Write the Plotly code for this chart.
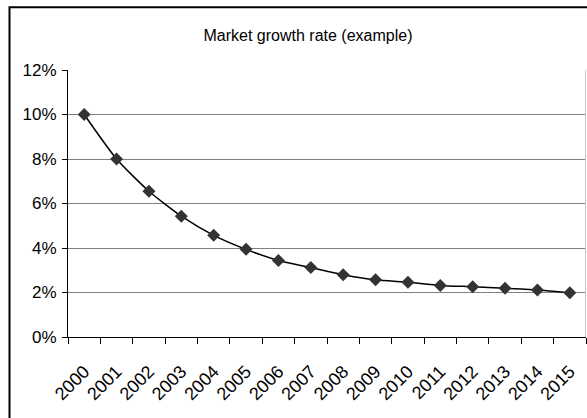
import plotly.graph_objects as go

# Market growth rate per year (fraction)
years = [str(y) for y in range(2000, 2016)]
growth = [0.100, 0.080, 0.0655, 0.0543, 0.0457, 0.0394, 0.0344, 0.0312,
          0.0280, 0.0257, 0.0246, 0.0232, 0.0226, 0.0219, 0.0211, 0.0199]
y_ticks = [0, 0.02, 0.04, 0.06, 0.08, 0.10, 0.12]

W, H = 587, 418
L, R, T, B = 68, 1, 69.5, 80.5
pw, ph = W - L - R, H - T - B

FONT = "Liberation Sans, Arial, sans-serif"

fig = go.Figure()
fig.add_trace(go.Scatter(
    x=years, y=growth, mode="lines+markers",
    line=dict(color="#000000", width=1.5, shape="spline", smoothing=0.6),
    marker=dict(symbol="diamond", size=10, color="#333333",
                line=dict(width=0)),
    showlegend=False, hoverinfo="x+y",
))

# outer chart frame (extends past the right and bottom edges)
fig.add_shape(type="rect", xref="paper", yref="paper",
              x0=(9.5 - L) / pw, x1=1.2,
              y0=-0.6, y1=1 + (T - 6.5) / ph,
              line=dict(color="#000000", width=2), layer="below")
# light right border of the plot area
fig.add_shape(type="line", xref="paper", yref="paper",
              x0=1 - 0.5 / pw, x1=1 - 0.5 / pw, y0=0, y1=1,
              line=dict(color="#c8c8c8", width=1))

fig.update_layout(
    width=W, height=H,
    margin=dict(l=L, r=R, t=T, b=B, pad=0),
    paper_bgcolor="white", plot_bgcolor="white",
    font=dict(family=FONT, size=15, color="#000000"),
    title=dict(text="Market growth rate (example)",
               x=308 / W, xanchor="center", xref="container",
               y=1 - 35 / H, yanchor="middle", yref="container",
               font=dict(family=FONT, size=16, color="#000000")),
    xaxis=dict(
        type="category", tickson="boundaries",
        ticks="outside", ticklen=6, tickwidth=1, tickcolor="#000000",
        showline=True, linecolor="#000000", linewidth=1,
        showgrid=False, tickangle=-45, ticklabelstandoff=16,
        tickfont=dict(family=FONT, size=18),
        range=[-0.5, len(years) - 0.5],
    ),
    yaxis=dict(
        range=[0, 0.12], tickvals=y_ticks, tickformat=".0%",
        ticks="outside", ticklen=5, tickwidth=1, tickcolor="#000000",
        showline=True, linecolor="#000000", linewidth=1,
        showgrid=True, gridcolor="#808080", gridwidth=1,
        zeroline=False, tickfont=dict(family=FONT, size=17),
        ticklabelstandoff=2,
    ),
)

fig.write_html("out.html")
